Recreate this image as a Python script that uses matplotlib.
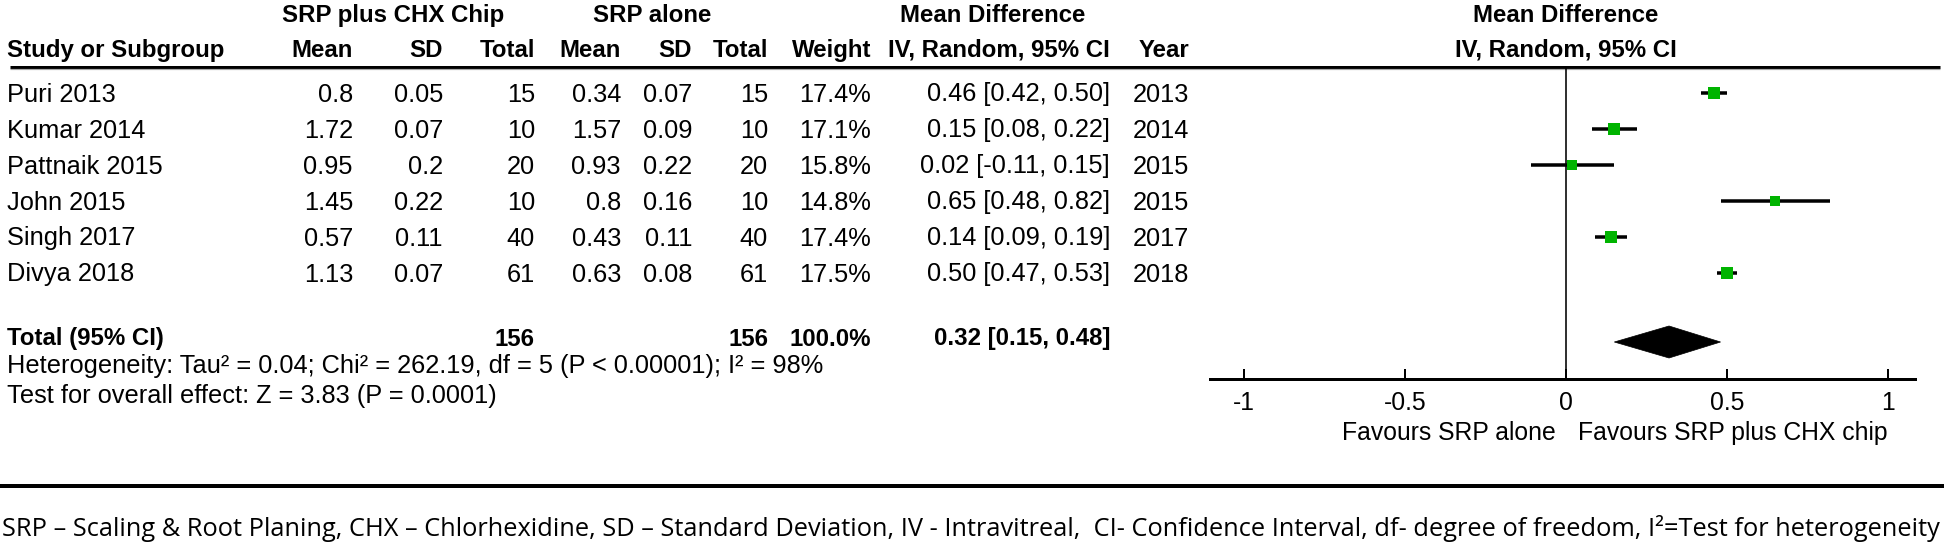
import matplotlib
matplotlib.use("Agg")
import matplotlib.pyplot as plt
from matplotlib import font_manager
from matplotlib.patches import Polygon

# ---------------- data ----------------
studies = ["Puri 2013", "Kumar 2014", "Pattnaik 2015", "John 2015", "Singh 2017", "Divya 2018"]
mean_chx = [0.8, 1.72, 0.95, 1.45, 0.57, 1.13]
sd_chx = [0.05, 0.07, 0.2, 0.22, 0.11, 0.07]
n_chx = [15, 10, 20, 10, 40, 61]
mean_srp = [0.34, 1.57, 0.93, 0.8, 0.43, 0.63]
sd_srp = [0.07, 0.09, 0.22, 0.16, 0.11, 0.08]
n_srp = [15, 10, 20, 10, 40, 61]
weights = [17.4, 17.1, 15.8, 14.8, 17.4, 17.5]
md = [0.46, 0.15, 0.02, 0.65, 0.14, 0.50]
ci_lo = [0.42, 0.08, -0.11, 0.48, 0.09, 0.47]
ci_hi = [0.50, 0.22, 0.15, 0.82, 0.19, 0.53]
years = [2013, 2014, 2015, 2015, 2017, 2018]
total_chx = 156
total_srp = 156
total_weight = 100.0
pooled_md, pooled_lo, pooled_hi = 0.32, 0.15, 0.48
x_ticks = [-1, -0.5, 0, 0.5, 1]
x_ticklabels = ["-1", "-0.5", "0", "0.5", "1"]
heterogeneity = "Heterogeneity: Tau\u00b2 = 0.04; Chi\u00b2 = 262.19, df = 5 (P < 0.00001); I\u00b2 = 98%"
overall = "Test for overall effect: Z = 3.83 (P = 0.0001)"
fav_left = "Favours SRP alone"
fav_right = "Favours SRP plus CHX chip"
footer = ("SRP \u2013 Scaling & Root Planing, CHX \u2013 Chlorhexidine, SD \u2013 Standard Deviation, "
          "IV - Intravitreal,  CI- Confidence Interval, df- degree of freedom, I\u00b2=Test for heterogeneity")

# ---------------- fonts ----------------
names = {f.name for f in font_manager.fontManager.ttflist}
body_font = "Liberation Sans Narrow" if "Liberation Sans Narrow" in names else "Liberation Sans"
head_font = "Liberation Sans"
foot_font = "Liberation Sans Narrow" if "Liberation Sans Narrow" in names else "Open Sans"

W, H = 1946, 543
fig = plt.figure(figsize=(W / 100, H / 100), dpi=100)
fig.patch.set_facecolor("white")

ov = fig.add_axes([0, 0, 1, 1])
ov.set_xlim(0, W)
ov.set_ylim(H, 0)
ov.axis("off")

PT = 0.72  # points per pixel at dpi 100
HEAD_SIZE = 17.3

body_texts, head_texts = [], []


def T(x, y, s, ha="right", bold=False):
    t = ov.text(x, y, s, ha=ha, va="baseline",
                family=head_font if bold else body_font,
                fontweight="bold" if bold else "normal",
                fontsize=HEAD_SIZE if bold else 17, color="black")
    (head_texts if bold else body_texts).append(t)
    return t


# column right edges (pixels)
c_name = 7
c_m1, c_sd1, c_n1 = 353, 443, 535
c_m2, c_sd2, c_n2 = 621, 692, 768
c_w, c_ci, c_yr = 871, 1110, 1189

# headers
T(393, 22, "SRP plus CHX Chip", ha="center", bold=True)
T(652, 22, "SRP alone", ha="center", bold=True)
T(993, 22, "Mean Difference", ha="center", bold=True)
T(1566, 22, "Mean Difference", ha="center", bold=True)
T(c_name, 57, "Study or Subgroup", ha="left", bold=True)
for x, s in [(c_m1, "Mean"), (c_sd1, "SD"), (c_n1, "Total"), (c_m2, "Mean"), (c_sd2, "SD"),
             (c_n2, "Total"), (c_w, "Weight"), (c_ci, "IV, Random, 95% CI"), (c_yr, "Year")]:
    T(x, 57, s, bold=True)
T(1566, 57, "IV, Random, 95% CI", ha="center", bold=True)

ov.plot([10, 1940], [66.5, 66.5], color="black", lw=3 * PT, solid_capstyle="butt")
ov.plot([10, 1940], [69.2, 69.2], color="#a8a8a8", lw=1.2 * PT, solid_capstyle="butt")

row_c = [93 + 36 * i for i in range(len(studies))]
for i, s in enumerate(studies):
    yb = row_c[i] + 8.5
    T(c_name, yb, s, ha="left")
    T(c_m1, yb, f"{mean_chx[i]:g}")
    T(c_sd1, yb, f"{sd_chx[i]:g}")
    T(c_n1, yb, f"{n_chx[i]}")
    T(c_m2, yb, f"{mean_srp[i]:g}")
    T(c_sd2, yb, f"{sd_srp[i]:g}")
    T(c_n2, yb, f"{n_srp[i]}")
    T(c_w, yb, f"{weights[i]:.1f}%")
    T(c_ci, yb, f"{md[i]:.2f} [{ci_lo[i]:.2f}, {ci_hi[i]:.2f}]")
    T(c_yr, yb, f"{years[i]}")

tot_c = 337
yb = tot_c + 8.5
T(c_name, yb, "Total (95% CI)", ha="left", bold=True)
T(c_n1, yb, f"{total_chx}", bold=True)
T(c_n2, yb, f"{total_srp}", bold=True)
T(c_w, yb, f"{total_weight:.1f}%", bold=True)
T(c_ci, yb, f"{pooled_md:.2f} [{pooled_lo:.2f}, {pooled_hi:.2f}]", bold=True)
het = T(c_name, 373, heterogeneity, ha="left")
T(c_name, 403, overall, ha="left")

# footer
ov.plot([0, 1944], [486, 486], color="black", lw=4 * PT, solid_capstyle="butt")
ft = ov.text(2, 536, footer, ha="left", va="baseline", family=foot_font, fontsize=17)

# ---------------- forest plot ----------------
zero_px, upx = 1566, 322
left_px, right_px = 1210, 1915
top_px, bot_px = 67, 379
fx = fig.add_axes([left_px / W, 1 - bot_px / H, (right_px - left_px) / W, (bot_px - top_px) / H])
fx.set_xlim((left_px - zero_px) / upx, (right_px - zero_px) / upx)
fx.set_ylim(bot_px, top_px)
fx.patch.set_alpha(0)
for sp in ["top", "left", "right"]:
    fx.spines[sp].set_visible(False)
fx.spines["bottom"].set_linewidth(3 * PT)
fx.set_yticks([])
fx.set_xticks(x_ticks)
fx.set_xticklabels(x_ticklabels, family=body_font)
fx.tick_params(axis="x", direction="in", length=10 * PT, width=2 * PT, pad=9, labelsize=19)
fx.axvline(0, color="black", lw=1.6 * PT, zorder=1)

for i in range(len(studies)):
    fx.plot([ci_lo[i], ci_hi[i]], [row_c[i], row_c[i]], color="black", lw=3.5 * PT,
            solid_capstyle="butt", zorder=2)
    fx.plot([md[i]], [row_c[i]], marker="s", color="#00b400", markeredgewidth=0,
            markersize=weights[i] * 0.5, zorder=3)

dh = 16
dy = 342
fx.add_patch(Polygon([(pooled_lo, dy), (pooled_md, dy - dh), (pooled_hi, dy), (pooled_md, dy + dh)],
                     closed=True, facecolor="black", edgecolor="black", lw=0.5, zorder=3))

fl = ov.text(1556, 440, fav_left, ha="right", va="baseline", family=body_font, fontsize=19)
fr = ov.text(1578, 440, fav_right, ha="left", va="baseline", family=body_font, fontsize=19)

# ---------------- fit text sizes to reference widths ----------------
fig.canvas.draw()
r = fig.canvas.get_renderer()


def scale_for(t, target):
    return t.get_fontsize() * target / t.get_window_extent(renderer=r).width


bs = scale_for(het, 815)
for t in body_texts:
    t.set_fontsize(bs)
asz = scale_for(fr, 310)
fl.set_fontsize(asz)
fr.set_fontsize(asz)
fx.tick_params(axis="x", labelsize=asz)
ft.set_fontsize(scale_for(ft, 1936))

fig.savefig("out.png", dpi=100, facecolor="white")
